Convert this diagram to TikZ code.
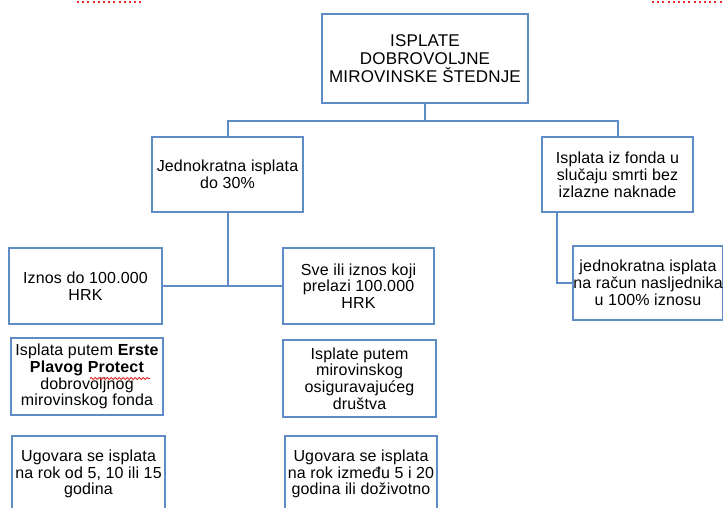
\documentclass[tikz,border=0pt]{standalone}
\usepackage{fontspec}
\setmainfont{Liberation Sans}[LetterSpace=1]
\usetikzlibrary{decorations.pathmorphing,calc}
\definecolor{bx}{RGB}{95,140,198}
\definecolor{spell}{RGB}{235,40,40}
\begin{document}
\begin{tikzpicture}[x=1pt,y=1pt,
  box/.style={draw=bx, line width=2pt, inner sep=0pt, align=center, text=black,
              font=\fontsize{16}{16.8}\selectfont},
  conn/.style={draw=bx, line width=2pt},
  spelldots/.style={draw=spell, line width=2pt, dash pattern=on 2pt off 3.2pt},
  wavy/.style={draw=spell, line width=0.9pt, decorate, decoration={snake, amplitude=1pt, segment length=4pt}}]
\useasboundingbox (0,0) rectangle (723,-507);
\clip (0,0) rectangle (723,-507);

\node[box, minimum width=206pt, minimum height=89pt, font=\fontsize{17}{18}\selectfont] (top) at (425,-58.5)
  {ISPLATE\\DOBROVOLJNE\\MIROVINSKE ŠTEDNJE};
\node[box, minimum width=151pt, minimum height=75pt] (jed) at (227.5,-174.5)
  {Jednokratna isplata\\do 30\%};
\node[box, minimum width=151pt, minimum height=75pt] (isf) at (617.5,-174.5)
  {Isplata iz fonda u\\slučaju smrti bez\\izlazne naknade};
\node[box, minimum width=153pt, minimum height=76pt] (iznos) at (85.5,-286)
  {Iznos do 100.000\\HRK};
\node[box, minimum width=151pt, minimum height=76pt] (sve) at (358.5,-286)
  {Sve ili iznos koji\\prelazi 100.000\\HRK};
\node[box, minimum width=148pt, minimum height=74pt] (jnk) at (648,-283)
  {jednokratna isplata\\na račun nasljednika\\u 100\% iznosu};
\node[box, minimum width=152pt, minimum height=77pt] (erste) at (87,-376.5)
  {Isplata putem \textbf{Erste}\\\textbf{Plavog Protect}\\dobrovoljnog\\mirovinskog fonda};
\node[box, minimum width=153pt, minimum height=77pt] (isp) at (359.5,-378.5)
  {Isplate putem\\mirovinskog\\osiguravajućeg\\društva};
\node[box, minimum width=153pt, minimum height=76pt] (ug1) at (88.5,-474)
  {Ugovara se isplata\\na rok od 5, 10 ili 15\\godina};
\node[box, minimum width=152pt, minimum height=76pt] (ug2) at (361,-474)
  {Ugovara se isplata\\na rok između 5 i 20\\godina ili doživotno};

\coordinate (bus) at (425,-121);
\draw[conn] (top.south) -- (bus);
\draw[conn] (jed.north) |- (bus) -| (isf.north);
\draw[conn] (jed.south) -- (jed.south |- iznos.east);
\draw[conn] (iznos.east) -- (sve.west);
\draw[conn] ($(isf.south west)+(16,0)$) |- (jnk.west);

\draw[spelldots] (77,-1.5) -- (142,-1.5);
\draw[spelldots] (652,-1.5) -- (723,-1.5);
\draw[wavy] (90,-378.5) -- (150,-378.5);
\end{tikzpicture}
\end{document}
